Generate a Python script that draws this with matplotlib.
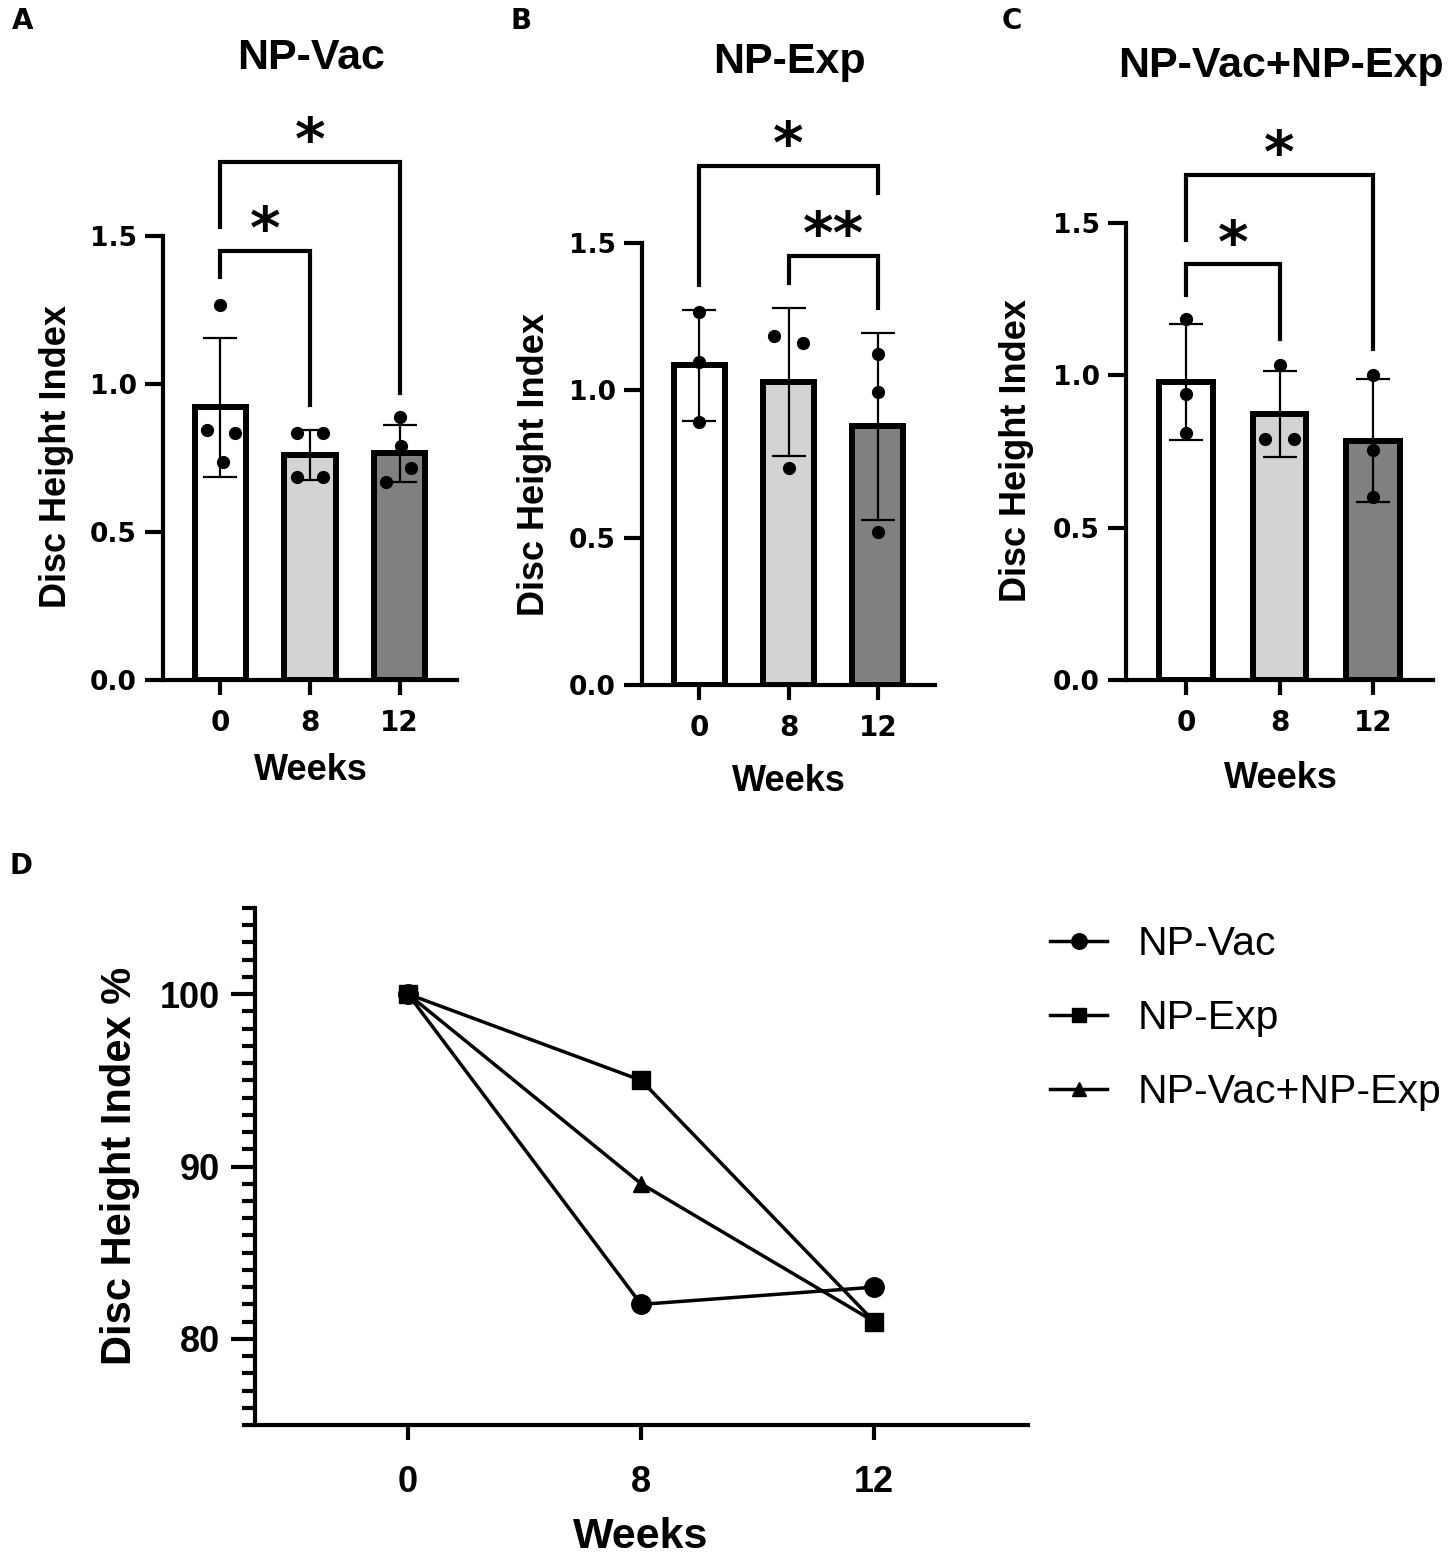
import numpy as np
import matplotlib
matplotlib.use("Agg")
import matplotlib.pyplot as plt
from matplotlib.ticker import MultipleLocator, FormatStrFormatter

# ---- values ----
weeks = ["0", "8", "12"]

# disc height index of each animal, per time point
vac_pts = [[1.267, 0.845, 0.836, 0.736],
           [0.833, 0.833, 0.686, 0.686],
           [0.888, 0.790, 0.716, 0.669]]
exp_pts = [[1.265, 1.096, 0.892],
           [1.183, 1.161, 0.738],
           [1.122, 0.993, 0.520]]
comb_pts = [[1.185, 0.938, 0.812],
            [1.035, 0.792, 0.792],
            [1.000, 0.755, 0.600]]

# significance comparisons (group a, group b, label)
vac_sig = [(0, 1, "*"), (0, 2, "*")]
exp_sig = [(0, 2, "*"), (1, 2, "**")]
comb_sig = [(0, 1, "*"), (0, 2, "*")]

# panel D: % of week 0
pct_vac = [100, 82, 83]
pct_exp = [100, 95, 81]
pct_comb = [100, 89, 81]

# ---- layout / style ----
W, H = 1452, 1562
bar_colors = ["white", "#d3d3d3", "#808080"]
BOLD = ["Liberation Sans", "DejaVu Sans"]

fig = plt.figure(figsize=(W / 100, H / 100), dpi=100)


def px_axes(l, t, r, b):
    return fig.add_axes([l / W, 1 - b / H, (r - l) / W, (b - t) / H])


def px_text(x, y, s, **kw):
    fig.text(x / W, 1 - y / H, s, **kw)


def bar_panel(ax, pts, jit, sig, brk):
    x = np.arange(3)
    means = [np.mean(p) for p in pts]
    sds = [np.std(p, ddof=1) for p in pts]
    ax.bar(x, means, width=0.57, color=bar_colors, edgecolor="black",
           linewidth=4.3, zorder=2)
    ax.errorbar(x, means, yerr=sds, fmt="none", ecolor="black",
                elinewidth=1.6, capsize=12, capthick=1.6, zorder=3)
    for i in range(3):
        ax.plot(i + np.array(jit[i]), pts[i], "o", color="black", ms=8.5,
                zorder=4)
    for (a, b, lab), (yb, ya, yc) in zip(sig, brk):
        ax.plot([a, a, b, b], [ya, yb, yb, yc], color="black", lw=3,
                clip_on=False, solid_joinstyle="miter", zorder=5)
        ax.annotate(lab, xy=((a + b) / 2, yb), xytext=(0, 2),
                    textcoords="offset points", ha="center", va="baseline",
                    fontsize=42, fontweight="bold", family="DejaVu Sans",
                    annotation_clip=False)
    ax.set_xlim(-0.64, 2.64)
    ax.set_ylim(0, 1.5)
    ax.set_yticks([0, 0.5, 1.0, 1.5])
    ax.yaxis.set_major_formatter(FormatStrFormatter("%.1f"))
    ax.set_xticks(x)
    ax.set_xticklabels(weeks)
    for s in ["top", "right"]:
        ax.spines[s].set_visible(False)
    for s in ["left", "bottom"]:
        ax.spines[s].set_linewidth(3)
    ax.tick_params(axis="y", length=13, width=3, pad=6, labelsize=19)
    ax.tick_params(axis="x", length=11, width=3, pad=10, labelsize=20)
    for t in ax.get_xticklabels() + ax.get_yticklabels():
        t.set_fontweight("bold")
        t.set_family("DejaVu Sans")


# panel A
axa = px_axes(163, 236, 457, 680)
bar_panel(axa, vac_pts,
          [[0, -0.15, 0.16, 0.03], [-0.15, 0.15, -0.15, 0.15],
           [0, 0.02, 0.13, -0.15]],
          vac_sig, [(1.45, 1.36, 0.93), (1.75, 1.53, 0.97)])

# panel B
axb = px_axes(642, 243, 935, 685)
bar_panel(axb, exp_pts,
          [[0, 0, 0], [-0.16, 0.16, 0], [0, 0, 0]],
          exp_sig, [(1.763, 1.356, 1.668), (1.457, 1.365, 1.278)])

# panel C
axc = px_axes(1126, 223, 1433, 680)
bar_panel(axc, comb_pts,
          [[0, 0, 0], [0, -0.15, 0.15], [0, 0, 0]],
          comb_sig, [(1.364, 1.264, 1.118), (1.659, 1.445, 1.085)])

for (cx, tx, title), (ly, lx, wy) in zip(
        [(311, 58, "NP-Vac"), (789, 62, "NP-Exp"), (1281, 66, "NP-Vac+NP-Exp")],
        [(456, 57, 770), (464, 534, 782), (451, 1016, 778)]):
    px_text(cx, tx, title, ha="center", va="center", fontsize=31,
            fontweight="bold", family=BOLD)
    px_text(lx, ly, "Disc Height Index", ha="center", va="center",
            rotation=90, fontsize=26, fontweight="bold", family=BOLD)
    px_text(cx, wy, "Weeks", ha="center", va="center", fontsize=26,
            fontweight="bold", family=BOLD)

# panel D
axd = px_axes(255, 908, 1028, 1425)
xd = np.arange(3)
axd.plot(xd, pct_vac, "-o", color="black", lw=2.5, ms=14, label="NP-Vac")
axd.plot(xd, pct_exp, "-s", color="black", lw=2.5, ms=13, label="NP-Exp")
axd.plot(xd, pct_comb, "-^", color="black", lw=2.5, ms=12,
         label="NP-Vac+NP-Exp")
axd.set_xlim(-0.657, 2.66)
axd.set_ylim(75, 105)
axd.set_yticks([80, 90, 100])
axd.yaxis.set_minor_locator(MultipleLocator(1))
axd.set_xticks(xd)
axd.set_xticklabels(weeks)
for s in ["top", "right"]:
    axd.spines[s].set_visible(False)
for s in ["left", "bottom"]:
    axd.spines[s].set_linewidth(3)
axd.tick_params(axis="y", which="major", length=17, width=3, pad=8,
                labelsize=26)
axd.tick_params(axis="y", which="minor", length=9.5, width=3)
axd.tick_params(axis="x", length=11, width=3, pad=18, labelsize=26)
for t in axd.get_yticklabels() + axd.get_xticklabels():
    t.set_fontweight("bold")
    t.set_family(BOLD)
px_text(120, 1166, "Disc Height Index %", ha="center", va="center",
        rotation=90, fontsize=30, fontweight="bold", family=BOLD)
px_text(641, 1537, "Weeks", ha="center", va="center", fontsize=31,
        fontweight="bold", family=BOLD)

fig.legend(*axd.get_legend_handles_labels(), loc="upper left",
           bbox_to_anchor=(1050 / W, 1 - 925 / H), frameon=False,
           prop={"family": BOLD, "size": 29.5}, handlelength=1.4,
           handletextpad=0.75, labelspacing=0.88, borderpad=0,
           borderaxespad=0, markerscale=0.8)

# panel letters
for x, y, s in [(23, 21, "A"), (521, 21, "B"), (1012, 21, "C"), (21, 866, "D")]:
    px_text(x, y, s, ha="center", va="center", fontsize=20,
            fontweight="bold", family="DejaVu Sans")

fig.savefig("out.png", dpi=100)
